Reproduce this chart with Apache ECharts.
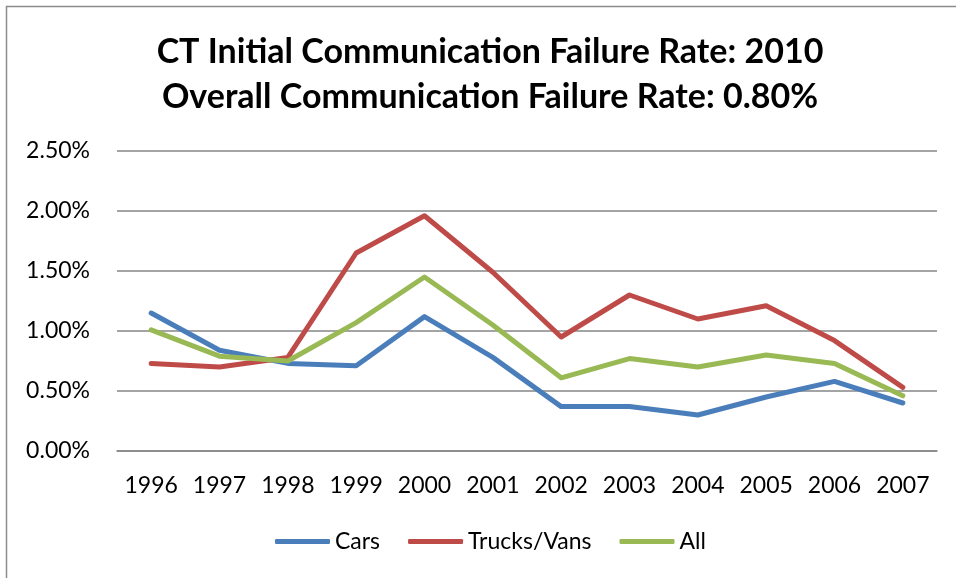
<!DOCTYPE html>
<html>
<head>
<meta charset="utf-8">
<script src="https://cdn.jsdelivr.net/npm/echarts@6/dist/echarts.min.js"></script>
<style>
  html, body { margin: 0; padding: 0; background: #fff; }
  #chart { width: 956px; height: 578px; }
</style>
</head>
<body>
<div id="chart"></div>
<script>
// model years on the x axis
const years = ["1996", "1997", "1998", "1999", "2000", "2001", "2002", "2003", "2004", "2005", "2006", "2007"];
// failure rates, in percent
const cars = [1.15, 0.84, 0.73, 0.71, 1.12, 0.78, 0.37, 0.37, 0.30, 0.45, 0.58, 0.40];
const trucksVans = [0.73, 0.70, 0.78, 1.65, 1.96, 1.49, 0.95, 1.30, 1.10, 1.21, 0.92, 0.53];
const all = [1.01, 0.79, 0.75, 1.07, 1.45, 1.05, 0.61, 0.77, 0.70, 0.80, 0.73, 0.46];
const seriesNames = ["Cars", "Trucks/Vans", "All"];
const colors = ["#4A7EBB", "#BE4B48", "#98B954"];

const font = "Lato, 'Open Sans', sans-serif";

let chart = echarts.init(document.getElementById("chart"));

function lineSeries(name, data) {
  return {
    name: name,
    type: "line",
    data: data,
    symbol: "none",
    lineStyle: { width: 5, cap: "round", join: "round" },
  };
}

let option = {
  color: colors,
  animation: false,
  title: {
    text: "CT Initial Communication Failure Rate: 2010\nOverall Communication Failure Rate: 0.80%",
    left: 485,
    textAlign: "center",
    top: 25,
    textStyle: {
      fontFamily: font,
      fontWeight: "bold",
      fontSize: 34,
      lineHeight: 45,
      color: "#000",
    },
  },
  legend: {
    data: seriesNames,
    top: 525,
    left: 270,
    itemWidth: 55,
    itemHeight: 5,
    itemGap: 28,
    icon: "roundRect",
    textStyle: { fontFamily: font, fontSize: 23, color: "#000" },
  },
  grid: {
    left: 117,
    right: 19,
    top: 151,
    bottom: 127,
  },
  xAxis: {
    type: "category",
    data: years,
    boundaryGap: true,
    axisLine: { lineStyle: { color: "#868686", width: 1.5 } },
    axisTick: { show: false },
    axisLabel: { fontFamily: font, fontSize: 23, color: "#000", margin: 23, interval: 0 },
  },
  yAxis: {
    type: "value",
    min: 0,
    max: 2.5,
    interval: 0.5,
    axisLine: { show: false },
    axisTick: { show: false },
    splitLine: { lineStyle: { color: "#868686", width: 1.5 } },
    axisLabel: {
      fontFamily: font,
      fontSize: 23,
      color: "#000",
      margin: 27,
      formatter: (v) => v.toFixed(2) + "%",
    },
  },
  graphic: [
    {
      type: "rect",
      shape: { x: 6.5, y: 6.5, width: 1000, height: 700 },
      style: { fill: "none", stroke: "#8c8c8c", lineWidth: 1.5 },
      silent: true,
    },
  ],
  series: [
    lineSeries(seriesNames[0], cars),
    lineSeries(seriesNames[1], trucksVans),
    lineSeries(seriesNames[2], all),
  ],
};

chart.setOption(option);
</script>
</body>
</html>
